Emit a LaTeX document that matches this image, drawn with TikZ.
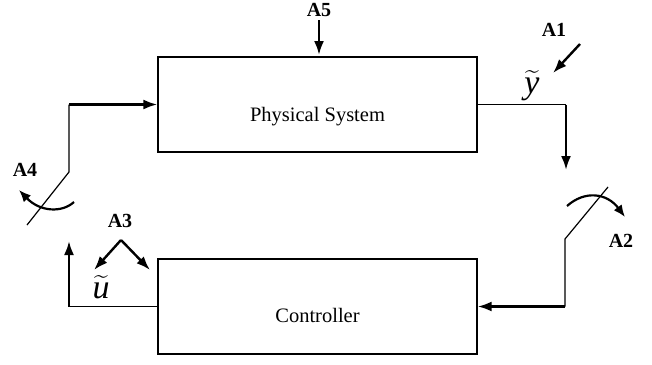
\RequirePackage{fix-cm}
\documentclass[tikz,border=0pt]{standalone}
\usepackage{exscale}
\usepackage{fontspec}
\setmainfont{Liberation Serif}
\usetikzlibrary{arrows.meta}
\begin{document}
\begin{tikzpicture}[x=1pt,y=-1pt,
  block/.style={draw,line width=1.3pt,minimum width=319pt,inner sep=0pt},
  wire/.style={line width=1.2pt},
  flow/.style={line width=2.4pt,-{Latex[length=14pt,width=10pt]}},
  turn/.style={line width=2.2pt,-{Latex[length=12pt,width=10pt]}},
  tag/.style={font=\fontsize{20}{22}\selectfont\bfseries},
  sig/.style={font=\fontsize{34}{36}\selectfont}]
  \useasboundingbox (0,0) rectangle (652,364);
  \node[block,minimum height=95pt] (plant) at (317.5,104.5) {};
  \node[block,minimum height=95pt] (ctrl) at (317.5,306.5) {};
  \node[font=\fontsize{20.5}{24}\selectfont] (plantname) at ([yshift=-12pt]plant.center) {Physical System};
  \node[font=\fontsize{20.5}{24}\selectfont] (ctrlname) at ([yshift=-9pt]ctrl.center) {Controller};
  \coordinate (yc) at (566,104.5);
  \coordinate (yend) at (566,170);
  \draw[wire] (plant.east) -- (yc);
  \draw[flow] (yc) -- (yend);
  \node[sig] (ytil) at (532,86) {$\widetilde{\textit{y}}$};
  \coordinate (s2a) at (608,187);
  \coordinate (s2b) at (565,239);
  \coordinate (s2c) at (565,306.5);
  \draw[wire] (s2a) -- (s2b) -- (s2c);
  \draw[flow] (s2c) -- (ctrl.east);
  \draw[turn] (567,206) .. controls (585,190) and (607,193) .. (625,217);
  \node[tag] (a2) at (621,241) {A2};
  \coordinate (uc) at (69,306.5);
  \coordinate (uend) at (69,241);
  \draw[wire] (ctrl.west) -- (uc);
  \draw[flow] (uc) -- (uend);
  \node[sig] (util) at (101,287) {$\widetilde{\textit{u}}$};
  \coordinate (s4a) at (27,225);
  \coordinate (s4b) at (69,172);
  \coordinate (s4c) at (69,104.5);
  \draw[wire] (s4a) -- (s4b) -- (s4c);
  \draw[flow] (s4c) -- (plant.west);
  \draw[turn] (74,202) .. controls (62,213) and (40,212) .. (19,190);
  \node[tag] (a4) at (25,170) {A4};
  \coordinate (a3top) at (121,240);
  \draw[flow] (a3top) -- (94,270);
  \draw[flow] (a3top) -- (150,270);
  \node[tag] (a3) at (120,221) {A3};
  \node[tag] (a5) at (319,10) {A5};
  \coordinate (a5top) at (319,20);
  \coordinate (a5end) at (319,55);
  \draw[flow] (a5top) -- (a5end);
  \node[tag] (a1) at (554,30) {A1};
  \draw[flow] (580,44) -- (553,73);
\end{tikzpicture}
\end{document}
